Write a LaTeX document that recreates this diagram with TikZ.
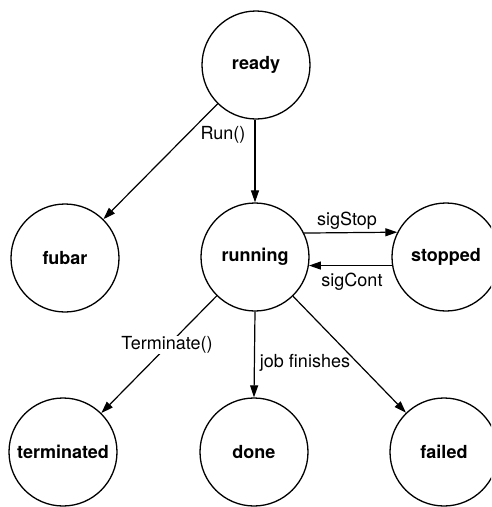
\documentclass[tikz,border=0pt]{standalone}
\usepackage{fontspec}
\setmainfont{TeX Gyre Heros}
\usetikzlibrary{arrows.meta}
\begin{document}
\begin{tikzpicture}[x=1pt,y=-1pt,
  state/.style={draw,circle,line width=1.3pt,minimum size=108pt,inner sep=0pt,
    font=\fontsize{18}{21}\selectfont\bfseries},
  tr/.style={line width=1.2pt,-{Triangle[length=12pt,width=8pt]}},
  lbl/.style={font=\fontsize{18}{21}\selectfont,inner sep=1pt},
  lblbg/.style={lbl,fill=white}]
\useasboundingbox (0,0) rectangle (491,507);
\begin{scope}
\clip (0,0) rectangle (491,507);
\node[state] (ready) at (256,65) {ready};
\node[state] (fubar) at (65,258) {fubar};
\node[state] (running) at (255,257) {running};
\node[state] (stopped) at (446,257) {stopped};
\node[state] (terminated) at (63,452) {terminated};
\node[state] (done) at (254,452) {done};
\node[state] (failed) at (444,452) {failed};
\end{scope}
\draw[tr] (ready) -- (fubar);
\draw[tr] (ready.south -| running.north) -- (running.north);
\draw[tr] (running.26.4) -- (stopped.153.6);
\draw[tr] (stopped.189.6) -- (running.-9.6);
\draw[tr] (running) -- (terminated);
\draw[tr] (running.south) -- (done.north);
\draw[tr] (running) -- (failed);
\node[lbl] (lrun) at (223,135) {Run()};
\node[lbl] (lstop) at (347,221) {sigStop};
\node[lbl] (lcont) at (352,282) {sigCont};
\node[lblbg] (lterm) at (167,345) {Terminate()};
\node[lbl] (ljob) at (305,363) {job finishes};
\end{tikzpicture}
\end{document}
